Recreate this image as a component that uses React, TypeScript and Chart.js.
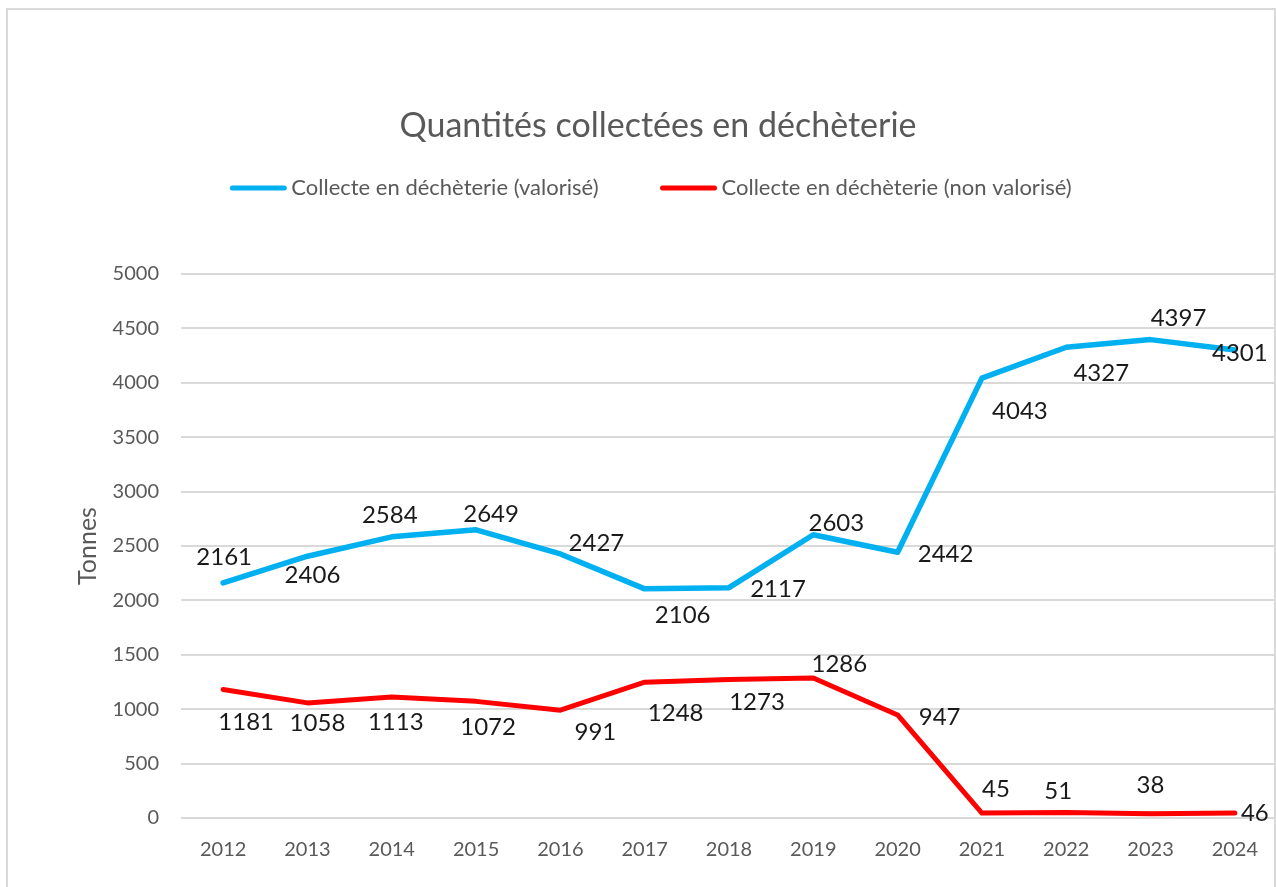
import React, { useEffect, useRef } from "react";
import { Chart, registerables } from "chart.js";

Chart.register(...registerables);

// ---- Data ----
const years = ["2012", "2013", "2014", "2015", "2016", "2017", "2018", "2019", "2020", "2021", "2022", "2023", "2024"];
const valorise = [2161, 2406, 2584, 2649, 2427, 2106, 2117, 2603, 2442, 4043, 4327, 4397, 4301];
const nonValorise = [1181, 1058, 1113, 1072, 991, 1248, 1273, 1286, 947, 45, 51, 38, 46];
const seriesNames = ["Collecte en déchèterie (valorisé)", "Collecte en déchèterie (non valorisé)"];
const chartTitle = "Quantités collectées en déchèterie";
const yAxisTitle = "Tonnes";

// ---- Style / layout config ----
const BLUE = "#00B0F0";
const RED = "#FF0000";
const GREY_TEXT = "#595959";
const GRID = "#d9d9d9";
const FONT = "Lato, 'Open Sans', sans-serif";

// label offsets (px) from each point, like Excel's manual label placement
const labelOffsetsValorise: [number, number][] = [
  [1, -26], [5, 19], [-2, -22], [15, -16], [36, -11], [38, 26], [49, 2],
  [23, -12], [48, 2], [38, 33], [35, 26], [28, -21], [5, 3],
];
const labelOffsetsNonValorise: [number, number][] = [
  [23, 33], [10, 20], [4, 25], [12, 26], [35, 22], [31, 31], [28, 23],
  [26, -14], [42, 2], [14, -24], [-8, -21], [0, -29], [20, 0],
];

const decorPlugin = {
  id: "decor",
  beforeDraw(chart: any) {
    const ctx = chart.ctx;
    ctx.save();
    ctx.fillStyle = "#ffffff";
    ctx.fillRect(0, 0, chart.width, chart.height);
    ctx.strokeStyle = GRID;
    ctx.lineWidth = 2;
    ctx.strokeRect(7, 9, 1268, 1000);
    ctx.restore();
  },
  afterDraw(chart: any) {
    const ctx = chart.ctx;
    ctx.save();
    // title
    ctx.fillStyle = GREY_TEXT;
    ctx.font = `34px ${FONT}`;
    ctx.textAlign = "center";
    ctx.textBaseline = "middle";
    ctx.fillText(chartTitle, 658, 126);

    // legend
    ctx.font = `22px ${FONT}`;
    const lineW = 56;
    const gap = 5;
    const itemGap = 62;
    const colors = [BLUE, RED];
    const widths = seriesNames.map((n) => ctx.measureText(n).width);
    const total = widths.reduce((a, w) => a + lineW + gap + w, 0) + itemGap;
    let x = 651 - total / 2;
    const ly = 188;
    seriesNames.forEach((name, i) => {
      ctx.strokeStyle = colors[i];
      ctx.lineWidth = 5;
      ctx.lineCap = "round";
      ctx.beginPath();
      ctx.moveTo(x + 2, ly);
      ctx.lineTo(x + lineW - 2, ly);
      ctx.stroke();
      ctx.fillStyle = GREY_TEXT;
      ctx.textAlign = "left";
      ctx.textBaseline = "middle";
      ctx.fillText(name, x + lineW + gap, ly);
      x += lineW + gap + widths[i] + itemGap;
    });

    // data labels
    ctx.font = `24px ${FONT}`;
    ctx.fillStyle = "#1a1a1a";
    ctx.textAlign = "center";
    ctx.textBaseline = "middle";
    const offsets = [labelOffsetsValorise, labelOffsetsNonValorise];
    chart.data.datasets.forEach((ds: any, di: number) => {
      const meta = chart.getDatasetMeta(di);
      meta.data.forEach((pt: any, i: number) => {
        const [dx, dy] = offsets[di][i];
        ctx.fillText(String(ds.data[i]), pt.x + dx, pt.y + dy);
      });
    });
    ctx.restore();
  },
};

export default function App() {
  const canvasRef = useRef<HTMLCanvasElement | null>(null);

  useEffect(() => {
    if (!canvasRef.current) return;
    const chart = new Chart(canvasRef.current, {
      type: "line",
      data: {
        labels: years,
        datasets: [
          {
            label: seriesNames[0],
            data: valorise,
            borderColor: BLUE,
            backgroundColor: BLUE,
            borderWidth: 5.5,
            pointRadius: 0,
            tension: 0,
            borderCapStyle: "round",
            borderJoinStyle: "round",
          },
          {
            label: seriesNames[1],
            data: nonValorise,
            borderColor: RED,
            backgroundColor: RED,
            borderWidth: 5,
            pointRadius: 0,
            tension: 0,
            borderCapStyle: "round",
            borderJoinStyle: "round",
          },
        ],
      },
      options: {
        responsive: false,
        animation: false,
        layout: { padding: { left: 0, right: 39, top: 274, bottom: 0 } },
        plugins: {
          legend: { display: false },
          title: { display: false },
          tooltip: { enabled: false },
        },
        scales: {
          x: {
            type: "category",
            offset: true,
            grid: { display: false, drawTicks: false },
            border: { display: false },
            ticks: { color: GREY_TEXT, font: { family: FONT, size: 20 }, padding: 20 },
            afterFit: (scale: any) => {
              scale.height = 69;
            },
          },
          y: {
            min: 0,
            max: 5000,
            ticks: {
              stepSize: 500,
              color: GREY_TEXT,
              font: { family: FONT, size: 20 },
              padding: 22,
              callback: (v: any) => String(v),
            },
            grid: { color: GRID, lineWidth: 2, drawTicks: false },
            border: { display: false },
            title: {
              display: true,
              text: yAxisTitle,
              color: GREY_TEXT,
              font: { family: FONT, size: 25 },
              padding: { top: 73, bottom: 0 },
            },
            afterFit: (scale: any) => {
              scale.width = 181;
            },
          },
        },
      },
      plugins: [decorPlugin],
    });
    return () => chart.destroy();
  }, []);

  return (
    <div style={{ position: "fixed", left: 0, top: 0, width: 1276, height: 887, overflow: "hidden", background: "#fff" }}>
      <canvas ref={canvasRef} width={1316} height={887} style={{ width: 1316, height: 887, display: "block" }} />
    </div>
  );
}
